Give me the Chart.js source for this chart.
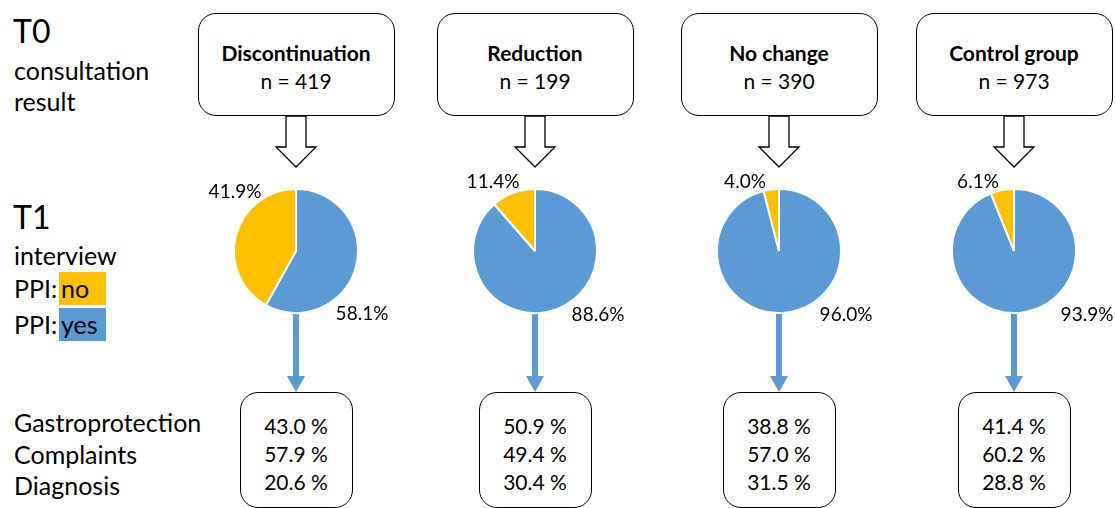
<!DOCTYPE html>
<html>
<head>
<meta charset="utf-8">
<script src="https://cdn.jsdelivr.net/npm/chart.js@4.4.1/dist/chart.umd.min.js"></script>
<style>
body { margin: 0; background: #fff; font-family: Lato, "DejaVu Sans", sans-serif; color: #000; }
#page { position: relative; width: 1115px; height: 508px; overflow: hidden; }
.txt { position: absolute; white-space: nowrap; }
.box { position: absolute; border: 1.3px solid #000; border-radius: 18px; box-sizing: border-box; background: #fff; }
.line { position: absolute; left: 0; right: 0; text-align: center; white-space: nowrap; }
.pie { position: absolute; width: 220px; height: 190px; }
#arrows { position: absolute; left: 0; top: 0; }
.hl { position: absolute; left: 45px; top: 0; width: 47px; height: 33px; padding-left: 2px; box-sizing: border-box; }
</style>
</head>
<body>
<div id="page">
  <svg id="arrows" width="1115" height="508"></svg>
</div>
<script>
// data
const groups = ['Discontinuation', 'Reduction', 'No change', 'Control group'];
const groupN = [419, 199, 390, 973];
const ppiYes = [58.1, 88.6, 96.0, 93.9];
const ppiNo = [41.9, 11.4, 4.0, 6.1];
const outcomeLabels = ['Gastroprotection', 'Complaints', 'Diagnosis'];
const gastroprotection = [43.0, 50.9, 38.8, 41.4];
const complaints = [57.9, 49.4, 57.0, 60.2];
const diagnosis = [20.6, 30.4, 31.5, 28.8];

const blue = '#5B9BD5';
const yellow = '#FFC000';

// layout
const colX = [296, 535, 779, 1014];
const pieY = 251;
const yesOffset = [[66, 63], [63, 64], [67, 64], [73, 64]];
const noOffset = [[-61, -59], [-42, -69], [-34, -69], [-36, -69]];

const page = document.getElementById('page');
const svg = document.getElementById('arrows');
const NS = 'http://www.w3.org/2000/svg';

function addText(text, x, yc, size, lh) {
  const d = document.createElement('div');
  d.className = 'txt';
  d.style.left = x + 'px';
  d.style.top = (yc - lh / 2) + 'px';
  d.style.fontSize = size + 'px';
  d.style.lineHeight = lh + 'px';
  d.innerHTML = text;
  page.appendChild(d);
  return d;
}

// left side labels
addText('T0', 13, 31, 32, 36);
addText('consultation', 14, 70, 25, 30);
addText('result', 14, 101, 25, 30);
addText('T1', 13, 217, 32, 36);
addText('interview', 14, 255, 25, 33);
addText('PPI: <span class="hl" style="background:' + yellow + '">no</span>', 14, 288.5, 25, 33);
addText('PPI: <span class="hl" style="background:' + blue + '">yes</span>', 14, 324, 25, 33);
outcomeLabels.forEach((t, i) => addText(t, 14, 422 + i * 31.5, 25, 30));

function poly(points, fill, stroke) {
  const p = document.createElementNS(NS, 'polygon');
  p.setAttribute('points', points.map(q => q.join(',')).join(' '));
  p.setAttribute('fill', fill);
  if (stroke) { p.setAttribute('stroke', stroke); p.setAttribute('stroke-width', '1.3'); }
  svg.appendChild(p);
}

const pieLabels = {
  id: 'pieLabels',
  afterDatasetsDraw(chart, args, opts) {
    const arc = chart.getDatasetMeta(0).data[0];
    const vals = chart.data.datasets[0].data;
    const ctx = chart.ctx;
    ctx.save();
    ctx.font = '19px Lato';
    ctx.fillStyle = '#000';
    ctx.textAlign = 'center';
    ctx.textBaseline = 'middle';
    opts.offsets.forEach((o, i) => {
      ctx.fillText(vals[i].toFixed(1) + '%', arc.x + o[0], arc.y + o[1]);
    });
    ctx.restore();
  }
};

groups.forEach((g, i) => {
  const cx = colX[i];

  // top box
  const top = document.createElement('div');
  top.className = 'box';
  Object.assign(top.style, { left: (cx - 98.5) + 'px', top: '13px', width: '197px', height: '103px' });
  top.innerHTML =
    '<div class="line" style="top:25px;line-height:28px;font-size:21px;font-weight:bold">' + g + '</div>' +
    '<div class="line" style="top:53px;line-height:28px;font-size:21px">n = ' + groupN[i] + '</div>';
  page.appendChild(top);

  // hollow arrow
  poly([[cx - 10, 116], [cx + 10, 116], [cx + 10, 147], [cx + 20, 147], [cx, 167], [cx - 20, 147], [cx - 10, 147]], '#fff', '#000');

  // blue arrow
  poly([[cx - 3, 300], [cx + 3, 300], [cx + 3, 376], [cx + 9, 376], [cx, 392], [cx - 9, 376], [cx - 3, 376]], blue);

  // bottom box
  const bot = document.createElement('div');
  bot.className = 'box';
  Object.assign(bot.style, { left: (cx - 56.5) + 'px', top: '392px', width: '113px', height: '116px' });
  const rows = [gastroprotection[i], complaints[i], diagnosis[i]];
  bot.innerHTML = rows.map((v, r) =>
    '<div class="line" style="top:' + (19 + r * 28) + 'px;line-height:28px;font-size:21px">' + v.toFixed(1) + ' %</div>'
  ).join('');
  page.appendChild(bot);

  // pie
  const wrap = document.createElement('div');
  wrap.className = 'pie';
  wrap.style.left = (cx - 110) + 'px';
  wrap.style.top = (pieY - 95) + 'px';
  const cv = document.createElement('canvas');
  cv.width = 220; cv.height = 190;
  wrap.appendChild(cv);
  page.appendChild(wrap);

  new Chart(cv, {
    type: 'pie',
    data: {
      labels: ['PPI: yes', 'PPI: no'],
      datasets: [{
        data: [ppiYes[i], ppiNo[i]],
        backgroundColor: [blue, yellow],
        borderColor: '#fff',
        borderWidth: 2
      }]
    },
    options: {
      responsive: false,
      animation: false,
      events: [],
      layout: { padding: { left: 47, right: 47, top: 32, bottom: 32 } },
      plugins: {
        legend: { display: false },
        tooltip: { enabled: false },
        pieLabels: { offsets: [yesOffset[i], noOffset[i]] }
      }
    },
    plugins: [pieLabels]
  });
});
</script>
</body>
</html>
